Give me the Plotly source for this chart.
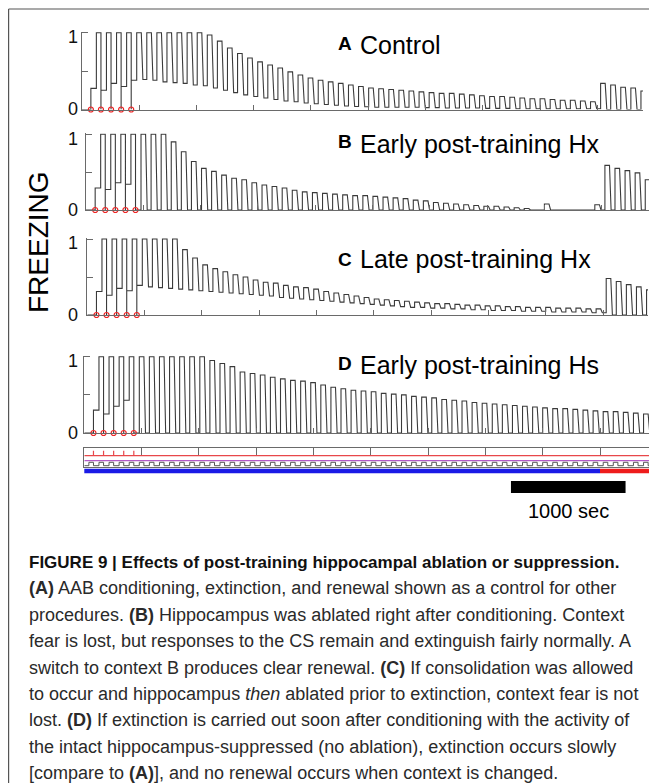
import plotly.graph_objects as go

# The page body adds an 8 px margin, so the figure is laid out in window pixels minus 8.
OFF = 8
W, H = 649, 775

# ---------------- data ----------------
TRIAL_ONSETS = [40, 128, 216, 304, 392, 480, 568, 656, 744, 832, 920, 1008, 1096, 1184,
                1272, 1360, 1448, 1536, 1624, 1712, 1800, 1888, 1976, 2064, 2152, 2240,
                2328, 2416, 2504, 2592, 2680, 2768, 2856, 2944, 3032, 3120, 3208, 3296,
                3384, 3472, 3560, 3648, 3736, 3824, 3912, 4000, 4088, 4176, 4264, 4352,
                4440, 4528, 4616, 4704, 4792, 4880]
CS_DURATION = 40
SHOCK_TIMES = [80, 168, 256, 344, 432]
CONTEXT_SWITCH = 4500
TICK_TIMES = [500, 1000, 1500, 2000, 2500, 3000, 3500, 4000, 4500]
SCALE_BAR_SEC = 1000

A_CS = [0.0, 1.0, 1.0, 1.0, 1.0,
        1.0, 1.0, 1.0, 1.0, 1.0, 1.0, 1.0, 0.97, 0.89, 0.80, 0.73, 0.67, 0.62, 0.58,
        0.54, 0.49, 0.45, 0.41, 0.38, 0.36, 0.34, 0.32, 0.30, 0.28,
        0.27, 0.26, 0.25, 0.24, 0.23, 0.22, 0.21, 0.21, 0.20, 0.19, 0.18, 0.17, 0.17,
        0.16, 0.15, 0.14, 0.14, 0.13, 0.12, 0.12, 0.11, 0.10,
        0.34, 0.32, 0.29, 0.28, 0.24]
A_CTX = [0.275, 0.25, 0.34, 0.30, 0.38,
         0.39, 0.38, 0.36, 0.35, 0.34, 0.32, 0.31, 0.28, 0.25, 0.22, 0.19, 0.17, 0.15,
         0.13, 0.11, 0.10, 0.085, 0.075, 0.065, 0.055, 0.045, 0.04, 0.035, 0.03,
         0.03, 0.03, 0.03, 0.03, 0.025, 0.025, 0.02, 0.02, 0.02, 0.02, 0.015, 0.015,
         0.015, 0.01, 0.01, 0.01, 0.01, 0.01, 0.01, 0.01, 0.01, 0.01,
         0.0, 0.0, 0.0, 0.0, 0.0]

B_CS = [0.0, 1.0, 1.0, 1.0, 1.0,
        1.0, 1.0, 1.0, 0.90, 0.77, 0.64, 0.55, 0.51, 0.46, 0.42, 0.40, 0.36, 0.33,
        0.31, 0.29, 0.26, 0.24, 0.23, 0.22, 0.21, 0.20, 0.19, 0.19, 0.18, 0.17, 0.16,
        0.15, 0.13, 0.12, 0.10, 0.09, 0.08, 0.07, 0.06, 0.05, 0.05, 0.04, 0.03, 0.02,
        0.0, 0.08, 0.0, 0.0, 0.0, 0.0, 0.07,
        0.59, 0.55, 0.52, 0.49, 0.40]
B_CTX = [0.29, 0.27, 0.36, 0.34, 0.0,
         0.0, 0.0, 0.0, 0.0, 0.0, 0.0, 0.0, 0.0, 0.0, 0.0, 0.0, 0.0, 0.0, 0.0, 0.0,
         0.0, 0.0, 0.0, 0.0, 0.0, 0.0, 0.0, 0.0, 0.0, 0.0, 0.0, 0.0, 0.0, 0.0, 0.0,
         0.0, 0.0, 0.0, 0.0, 0.0, 0.0, 0.0, 0.0, 0.0, 0.0, 0.0, 0.0, 0.0, 0.0, 0.0,
         0.0, 0.0, 0.0, 0.0, 0.0, 0.0]

C_CS = [0.0, 1.0, 1.0, 1.0, 1.0,
        1.0, 1.0, 1.0, 1.0, 0.86, 0.75, 0.66, 0.61, 0.57, 0.53, 0.50, 0.46, 0.43,
        0.42, 0.39, 0.37, 0.36, 0.34, 0.31,
        0.29, 0.27, 0.25, 0.23, 0.21, 0.20, 0.19, 0.18, 0.17, 0.16, 0.15, 0.15, 0.14,
        0.13, 0.13, 0.12, 0.12, 0.11, 0.11, 0.10, 0.10, 0.10, 0.09, 0.09, 0.09, 0.08,
        0.08,
        0.48, 0.44, 0.40, 0.37, 0.33]
C_CTX = [0.31, 0.26, 0.35, 0.32, 0.39,
         0.37, 0.36, 0.35, 0.34, 0.33, 0.32, 0.31, 0.30, 0.29, 0.28, 0.27, 0.26, 0.25,
         0.23, 0.22, 0.21, 0.20, 0.19, 0.18,
         0.17, 0.16, 0.15, 0.14, 0.13, 0.12, 0.11, 0.10, 0.10, 0.09, 0.09, 0.08, 0.08,
         0.07, 0.07, 0.06, 0.06, 0.06, 0.05, 0.05, 0.05, 0.04, 0.04, 0.04, 0.04, 0.03,
         0.03,
         0.0, 0.0, 0.0, 0.0, 0.0]

D_CS = [0.0, 1.0, 1.0, 1.0, 1.0,
        1.0, 1.0, 1.0, 1.0, 1.0, 1.0, 1.0, 0.95, 0.91, 0.87, 0.80, 0.78, 0.76, 0.73,
        0.71, 0.69, 0.68, 0.66, 0.63, 0.60, 0.58, 0.56,
        0.55, 0.54, 0.52, 0.51, 0.50, 0.48, 0.47, 0.46, 0.44, 0.43, 0.42, 0.40, 0.39,
        0.38, 0.37, 0.36, 0.35, 0.34, 0.33, 0.32, 0.32, 0.31, 0.30, 0.29,
        0.28, 0.28, 0.27, 0.26, 0.25]
D_CTX = [0.30, 0.25, 0.35, 0.43, 0.0,
         0.0, 0.0, 0.0, 0.0, 0.0, 0.0, 0.0, 0.0, 0.0, 0.0, 0.0, 0.0, 0.0, 0.0, 0.0,
         0.0, 0.0, 0.0, 0.0, 0.0, 0.0, 0.0, 0.0, 0.0, 0.0, 0.0, 0.0, 0.0, 0.0, 0.0,
         0.0, 0.0, 0.0, 0.0, 0.0, 0.0, 0.0, 0.0, 0.0, 0.0, 0.0, 0.0, 0.0, 0.0, 0.0,
         0.0, 0.0, 0.0, 0.0, 0.0, 0.0]

PANEL_LETTERS = ["A", "B", "C", "D"]
PANEL_TITLES = ["Control", "Early post-training Hx", "Late post-training Hx",
                "Early post-training Hs"]
Y_TICK_LABELS = ["0", "1"]
Y_LABEL = "FREEZING"
SCALE_LABEL = "1000 sec"

CAPTION = [
    "<b>FIGURE 9 | Effects of post-training hippocampal ablation or suppression.</b>",
    "<b>(A)</b> AAB conditioning, extinction, and renewal shown as a control for other",
    "procedures. <b>(B)</b> Hippocampus was ablated right after conditioning. Context",
    "fear is lost, but responses to the CS remain and extinguish fairly normally. A",
    "switch to context B produces clear renewal. <b>(C)</b> If consolidation was allowed",
    "to occur and hippocampus <i>then</i> ablated prior to extinction, context fear is not",
    "lost. <b>(D)</b> If extinction is carried out soon after conditioning with the activity of",
    "the intact hippocampus-suppressed (no ablation), extinction occurs slowly",
    "[compare to <b>(A)</b>], and no renewal occurs when context is changed.",
]

# ---------------- layout geometry (window pixels) ----------------
PX_PER_SEC = 0.1146
FALL = 14
TRACE_COLOR = "#3a3a3a"
AXIS_COLOR = "#6a6a6a"
FONT = "Liberation Sans, Arial, sans-serif"

# (x_left, x_right, y_of_0, y_of_1)
PANELS = [
    (81.7, 643.0, 109.5, 32.7),
    (86.0, 649.0, 210.0, 134.3),
    (87.3, 648.0, 315.0, 239.0),
    (84.3, 649.0, 433.0, 356.7),
]
STIM = (84.3, 649.0, 467.0, 448.0)
YTOP = 1.015


def px(xp):
    return (xp - OFF) / W


def py(yp):
    return 1 - (yp - OFF) / H


fig = go.Figure()

SERIES = [(A_CS, A_CTX), (B_CS, B_CTX), (C_CS, C_CTX), (D_CS, D_CTX)]
annotations = []
shapes = []

for i, ((cs, ctx), (xl, xr, y0, y1)) in enumerate(zip(SERIES, PANELS)):
    n = i + 1
    xa = "x" if n == 1 else f"x{n}"
    ya = "y" if n == 1 else f"y{n}"
    xmax = (xr - xl) / PX_PER_SEC
    xs, ys = [0], [0.0]
    prev = 0.0
    for k, on in enumerate(TRIAL_ONSETS):
        off = on + CS_DURATION
        xs += [on, on, off]
        ys += [prev, cs[k], cs[k]]
        if off in SHOCK_TIMES:
            xs += [off, off]
            ys += [0.0, ctx[k]]
        else:
            xs += [off + FALL]
            ys += [ctx[k]]
        prev = ctx[k]
    fig.add_trace(go.Scatter(x=xs, y=ys, mode="lines", xaxis=xa, yaxis=ya,
                             line=dict(color=TRACE_COLOR, width=1.1),
                             hoverinfo="skip", showlegend=False))
    fig.add_trace(go.Scatter(x=SHOCK_TIMES, y=[0] * len(SHOCK_TIMES), mode="markers",
                             xaxis=xa, yaxis=ya, cliponaxis=False,
                             marker=dict(symbol="circle-open", size=5, color="#ee2222",
                                         line=dict(width=1.2)),
                             hoverinfo="skip", showlegend=False))
    ppu = y0 - y1
    dom_y = [py(y0), py(y0 - YTOP * ppu)]
    xkey = "xaxis" if n == 1 else f"xaxis{n}"
    ykey = "yaxis" if n == 1 else f"yaxis{n}"
    fig.update_layout(**{
        xkey: dict(domain=[px(xl), px(xr)], range=[0, xmax], anchor=ya,
                   showline=True, linecolor=AXIS_COLOR, linewidth=1,
                   ticks="inside", tickvals=TICK_TIMES, ticklen=5, tickcolor=AXIS_COLOR,
                   showticklabels=False, showgrid=False, zeroline=False),
        ykey: dict(domain=dom_y, range=[0, YTOP], anchor=xa,
                   showline=True, linecolor=AXIS_COLOR, linewidth=1,
                   ticks="inside", tickvals=[0, 0.5, 1], ticklen=6, tickcolor=AXIS_COLOR,
                   showticklabels=False, showgrid=False, zeroline=False),
    })
    annotations.append(dict(x=px(72.5), xref="paper", y=0, yref=ya, text=Y_TICK_LABELS[0],
                            showarrow=False, xanchor="center", yanchor="middle",
                            font=dict(family=FONT, size=18, color="#111")))
    annotations.append(dict(x=px(72.5), xref="paper", y=1, yref=ya, yshift=-4.5,
                            text=Y_TICK_LABELS[1], showarrow=False, xanchor="center",
                            yanchor="middle", font=dict(family=FONT, size=18, color="#111")))

# panel titles
LETTER_Y = [43.5, 141.5, 259.0, 363.5]
TITLE_Y = [44.5, 144.0, 259.5, 364.5]
for letter, title, ly, ty in zip(PANEL_LETTERS, PANEL_TITLES, LETTER_Y, TITLE_Y):
    annotations.append(dict(x=px(336), y=py(ly), xref="paper", yref="paper",
                            text=f"<b>{letter}</b>", showarrow=False, xanchor="left",
                            yanchor="middle", font=dict(family=FONT, size=19, color="#000")))
    annotations.append(dict(x=px(358), y=py(ty), xref="paper", yref="paper",
                            text=title, showarrow=False, xanchor="left",
                            yanchor="middle", font=dict(family=FONT, size=25, color="#000")))

annotations.append(dict(x=px(38), y=py(242), xref="paper", yref="paper", text=Y_LABEL,
                        textangle=-90, showarrow=False, xanchor="center", yanchor="middle",
                        font=dict(family=FONT, size=28, color="#000")))

# ---------------- stimulus panel ----------------
sxl, sxr, sy0, sy1 = STIM
smax = (sxr - sxl) / PX_PER_SEC
RED_LEVEL, TICK_TOP, PURPLE_LEVEL, SQ_HIGH, SQ_LOW = 11.3, 16.3, 6.3, 4.7, 1.3
rx, ry = [0, smax, None], [RED_LEVEL, RED_LEVEL, None]
for t in SHOCK_TIMES:
    rx += [t, t, None]
    ry += [RED_LEVEL, TICK_TOP, None]
fig.add_trace(go.Scatter(x=rx, y=ry, mode="lines", xaxis="x5", yaxis="y5",
                         line=dict(color="#e8474a", width=1.2), hoverinfo="skip",
                         showlegend=False))
fig.add_trace(go.Scatter(x=[0, smax], y=[PURPLE_LEVEL, PURPLE_LEVEL], mode="lines",
                         xaxis="x5", yaxis="y5", line=dict(color="#b45ac8", width=1.2),
                         hoverinfo="skip", showlegend=False))
qx, qy = [0], [SQ_LOW]
for on in TRIAL_ONSETS:
    qx += [on, on, on + CS_DURATION, on + CS_DURATION]
    qy += [SQ_LOW, SQ_HIGH, SQ_HIGH, SQ_LOW]
qx.append(smax)
qy.append(SQ_LOW)
fig.add_trace(go.Scatter(x=qx, y=qy, mode="lines", xaxis="x5", yaxis="y5",
                         line=dict(color="#555", width=1), hoverinfo="skip",
                         showlegend=False))
fig.update_layout(
    xaxis5=dict(domain=[px(sxl), px(sxr)], range=[0, smax], anchor="y5", side="top",
                showline=True, mirror=True, linecolor=AXIS_COLOR, linewidth=1,
                ticks="inside", tickvals=TICK_TIMES, ticklen=7, tickcolor=AXIS_COLOR,
                showticklabels=False, showgrid=False, zeroline=False),
    yaxis5=dict(domain=[py(sy0), py(sy1)], range=[0, sy0 - sy1], anchor="x5",
                showline=True, mirror=True, linecolor=AXIS_COLOR, linewidth=1,
                ticks="", showticklabels=False, showgrid=False, zeroline=False),
)

shapes.append(dict(type="line", xref="x5", yref="paper", x0=-14, x1=CONTEXT_SWITCH,
                   y0=py(471), y1=py(471), line=dict(color="#1a1ae6", width=4.5)))
shapes.append(dict(type="line", xref="x5", yref="paper", x0=CONTEXT_SWITCH, x1=smax + 25,
                   y0=py(471), y1=py(471), line=dict(color="#ee1c1c", width=4.5)))
SB_START = 3723
shapes.append(dict(type="rect", xref="x5", yref="paper", x0=SB_START,
                   x1=SB_START + SCALE_BAR_SEC, y0=py(493), y1=py(481),
                   fillcolor="#000", line=dict(width=0)))
annotations.append(dict(x=SB_START + SCALE_BAR_SEC / 2, xref="x5", y=py(511), yref="paper",
                        text=SCALE_LABEL, showarrow=False, xanchor="center",
                        yanchor="middle", font=dict(family=FONT, size=20, color="#000")))

# frame
shapes.append(dict(type="line", xref="paper", yref="paper", x0=px(8.6), x1=px(655),
                   y0=py(9), y1=py(9), line=dict(color="#555", width=1.2)))
shapes.append(dict(type="line", xref="paper", yref="paper", x0=px(8.6), x1=px(8.6),
                   y0=py(9), y1=py(783), line=dict(color="#555", width=1.2)))

for j, line in enumerate(CAPTION):
    annotations.append(dict(x=px(27), y=py(562 + 26.4 * j), xref="paper", yref="paper",
                            text=line, showarrow=False, xanchor="left", yanchor="middle",
                            font=dict(family=FONT, size=17 if j == 0 else 18,
                                      color="#111" if j == 0 else "#2a2a2a")))

fig.update_layout(width=W, height=H, margin=dict(l=0, r=0, t=0, b=0),
                  paper_bgcolor="white", plot_bgcolor="rgba(0,0,0,0)",
                  annotations=annotations, shapes=shapes, showlegend=False)

fig.write_html("out.html")
